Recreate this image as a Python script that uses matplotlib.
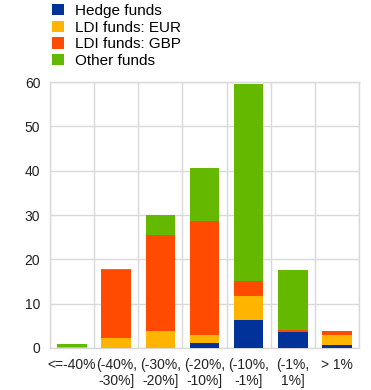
import numpy as np
import matplotlib.pyplot as plt

plt.rcParams['font.family'] = ['Liberation Sans', 'DejaVu Sans']

# Data
categories = ['<=-40%', '(-40%,\n-30%]', '(-30%,\n-20%]', '(-20%,\n-10%]',
              '(-10%,\n-1%]', '(-1%,\n1%]', '> 1%']
hedge = [0.0, 0.0, 0.0, 1.1, 6.3, 3.7, 0.7]
ldi_eur = [0.15, 2.3, 3.9, 1.8, 5.5, 0.0, 2.2]
ldi_gbp = [0.05, 15.2, 21.7, 25.8, 3.4, 0.4, 1.0]
other = [0.6, 0.4, 4.3, 12.0, 44.3, 13.5, 0.0]

series = [('Hedge funds', hedge, '#003299'),
          ('LDI funds: EUR', ldi_eur, '#FFB400'),
          ('LDI funds: GBP', ldi_gbp, '#FF4B00'),
          ('Other funds', other, '#65B800')]

fig = plt.figure(figsize=(3.71, 3.9), dpi=100)
ax = fig.add_axes([0.1348, 0.1077, 0.8329, 0.682])

x = np.arange(len(categories))
bottom = np.zeros(len(categories))
for name, vals, col in series:
    ax.bar(x, vals, bottom=bottom, width=0.67, color=col, label=name, zorder=3)
    bottom += np.array(vals)

ax.set_xlim(-0.5, len(categories) - 0.5)
ax.set_ylim(0, 60)
ax.set_yticks(range(0, 61, 10))
ax.set_xticks(x)
ax.set_xticklabels(categories, fontsize=10)
ax.set_xticks(np.arange(-0.5, len(categories), 1), minor=True)
ax.tick_params(axis='both', which='both', length=0, labelsize=10, colors='#222222')
ax.tick_params(axis='y', pad=7)
ax.tick_params(axis='x', pad=7)
ax.grid(True, axis='y', color='#d9d9d9', linewidth=1, zorder=0)
ax.grid(True, axis='x', which='minor', color='#d9d9d9', linewidth=1, zorder=0)
for s in ax.spines.values():
    s.set_color('#d9d9d9')
    s.set_linewidth(1)

fig.legend(loc='upper left', bbox_to_anchor=(0.125, 1.006), frameon=False,
           fontsize=11, handlelength=0.75, handleheight=0.75,
           labelspacing=0.18, handletextpad=0.7, borderaxespad=0)

fig.savefig('out.png', dpi=100)
